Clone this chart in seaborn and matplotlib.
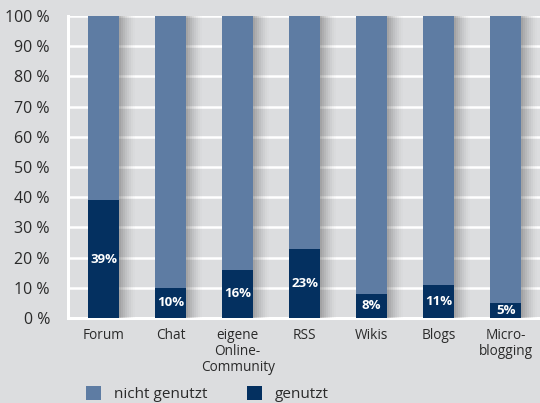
import numpy as np
import pandas as pd
import matplotlib
matplotlib.use("Agg")
import matplotlib.pyplot as plt
import seaborn as sns
from matplotlib.patches import Patch, Rectangle

categories = ["Forum", "Chat", "eigene\nOnline-\nCommunity", "RSS", "Wikis", "Blogs", "Micro-\nblogging"]
genutzt = [39, 10, 16, 23, 8, 11, 5]
nicht_genutzt = [61, 90, 84, 77, 92, 89, 95]
ytick_values = [0, 10, 20, 30, 40, 50, 60, 70, 80, 90, 100]
ytick_labels = ["0 %", "10 %", "20 %", "30 %", "40 %", "50 %", "60 %", "70 %", "80 %", "90 %", "100 %"]
series_names = ["nicht genutzt", "genutzt"]

BG = "#dcdddf"
LIGHT = "#5e7ca3"
DARK = "#043060"
TEXT = "#2a2a2a"

sns.set_theme(style="white")
plt.rcParams["font.family"] = ["Open Sans", "DejaVu Sans"]

df = pd.DataFrame({
    "cat": categories,
    "genutzt": genutzt,
    "total": [g + n for g, n in zip(genutzt, nicht_genutzt)],
})

fig = plt.figure(figsize=(5.4, 4.03), dpi=100, facecolor=BG)
ax = fig.add_axes([68 / 540, 85 / 403, 1 - 68 / 540, 302 / 403])
ax.set_facecolor(BG)

bw = 0.46
sns.barplot(data=df, x="cat", y="total", color=LIGHT, width=bw, saturation=1,
            ax=ax, zorder=3, linewidth=0)
sns.barplot(data=df, x="cat", y="genutzt", color=DARK, width=bw, saturation=1,
            ax=ax, zorder=4, linewidth=0)

for i, v in enumerate(genutzt):
    ax.text(i, v / 2, f"{v}%", ha="center", va="center", color="white",
            fontsize=9.5, fontweight="bold", zorder=5)

ax.set_xlim(-0.53, 6.51)
ax.set_ylim(0, 100)
ax.set_yticks(ytick_values)
ax.set_yticklabels(ytick_labels, fontsize=11.5, color=TEXT)
ax.set_xticks(range(len(categories)))
ax.set_xticklabels(categories, fontsize=9.8, color=TEXT, linespacing=1.1)
ax.tick_params(axis="y", length=0, pad=13)
ax.tick_params(axis="x", length=0, pad=7)
ax.set_xlabel("")
ax.set_ylabel("")
ax.yaxis.grid(True, color="white", linewidth=1.8, zorder=0)
ax.set_axisbelow(True)
for s in ["top", "right"]:
    ax.spines[s].set_visible(False)
for s in ["left", "bottom"]:
    ax.spines[s].set_color("white")
    ax.spines[s].set_linewidth(2.2)
    ax.spines[s].set_zorder(2)

# soft shadows to the right of the bars, placed from the drawn bar patches
bars = list(ax.patches)[: len(categories)]
n_steps = 8
step = 0.03
for p in bars:
    x_right = float(p.get_x() + p.get_width())
    h = float(p.get_height())
    for k in range(n_steps):
        a = 0.42 * (1 - k / n_steps) ** 1.5
        ax.add_patch(Rectangle((x_right + k * step, 0), step, h,
                               facecolor=(0.33, 0.33, 0.33, a), edgecolor="none",
                               linewidth=0, zorder=2.9))

handles = [Patch(facecolor=LIGHT, edgecolor="none"), Patch(facecolor=DARK, edgecolor="none")]
fig.legend(handles, series_names, loc="upper left", bbox_to_anchor=(80 / 540, 1 - 380 / 403),
           ncol=2, frameon=False, fontsize=11, labelcolor=TEXT, handlelength=1.0,
           handleheight=1.0, handletextpad=0.8, columnspacing=2.6, borderaxespad=0)

fig.savefig("out.png", dpi=100, facecolor=BG)
